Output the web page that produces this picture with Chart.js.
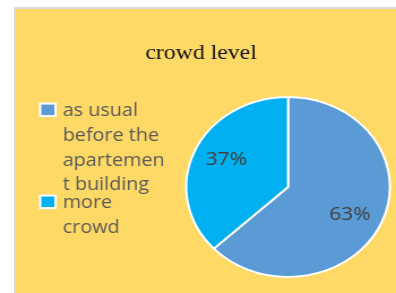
<!DOCTYPE html>
<html>
<head>
<meta charset="utf-8">
<script src="https://cdn.jsdelivr.net/npm/chart.js@4/dist/chart.umd.min.js"></script>
<style>
  html, body { margin: 0; padding: 0; background: #ffffff; width: 396px; height: 293px; overflow: hidden; }
  #panel { position: absolute; left: 14px; top: 7px; width: 420px; height: 320px;
           background: #FFD966; border-left: 2px solid #d9d9d9; border-top: 2px solid #d9d9d9; }
  #c { position: absolute; left: 0; top: 0; }
</style>
</head>
<body>
<div id="panel"></div>
<canvas id="c" width="350" height="293" style="width:396px;height:293px;"></canvas>
<script>
// ---- data ----
const chartTitle = 'crowd level';
const categories = ['as usual before the apartement building', 'more crowd'];
const legendLines = [
  ['as usual', 'before the', 'apartemen', 't building'],
  ['more', 'crowd']
];
const values = [63, 37];
const valueLabels = ['63%', '37%'];
const sliceColors = ['#5B9BD5', '#00B0F0'];

// percentage labels placed on each arc's mid-angle
const pieLabels = {
  id: 'pieLabels',
  afterDatasetsDraw(chart) {
    const ctx = chart.ctx;
    const meta = chart.getDatasetMeta(0);
    ctx.save();
    ctx.font = '18.5px "Open Sans", "Noto Sans", sans-serif';
    ctx.fillStyle = '#404040';
    ctx.textAlign = 'center';
    ctx.textBaseline = 'middle';
    meta.data.forEach((arc, i) => {
      const p = arc.getProps(['x', 'y', 'startAngle', 'endAngle', 'outerRadius'], true);
      const mid = (p.startAngle + p.endAngle) / 2 + 0.06;
      const r = p.outerRadius * 0.68;
      ctx.fillText(valueLabels[i], p.x + Math.cos(mid) * r, p.y + Math.sin(mid) * r);
    });
    ctx.restore();
  }
};

// chart title and wrapped legend (boxes aligned to the first line)
const titleAndLegend = {
  id: 'titleAndLegend',
  afterDraw(chart) {
    const ctx = chart.ctx;
    ctx.save();
    ctx.font = '21px "Liberation Serif", "DejaVu Serif", serif';
    ctx.fillStyle = '#111111';
    ctx.textAlign = 'center';
    ctx.textBaseline = 'alphabetic';
    ctx.fillText(chartTitle, 177.7, 59.3);

    const textX = 55.4, boxX = 35.5, boxW = 13.5, boxH = 12.5;
    const lineStep = 24.7;
    const itemStarts = [116.3, 208.3];
    ctx.font = '17.5px "Open Sans", "Noto Sans", sans-serif';
    ctx.textAlign = 'left';
    legendLines.forEach((lines, i) => {
      const b0 = itemStarts[i];
      ctx.fillStyle = sliceColors[i];
      ctx.strokeStyle = '#ffffff';
      ctx.lineWidth = 2;
      ctx.fillRect(boxX, b0 - 6.5 - boxH / 2, boxW, boxH);
      ctx.strokeRect(boxX, b0 - 6.5 - boxH / 2, boxW, boxH);
      ctx.fillStyle = '#595959';
      lines.forEach((t, j) => ctx.fillText(t, textX, b0 + j * lineStep));
    });
    ctx.restore();
  }
};

new Chart(document.getElementById('c'), {
  type: 'pie',
  data: {
    labels: categories,
    datasets: [{
      data: values,
      backgroundColor: sliceColors,
      borderColor: '#ffffff',
      borderWidth: 2
    }]
  },
  options: {
    responsive: false,
    devicePixelRatio: 1,
    animation: false,
    layout: { padding: { left: 163.6, right: 4.4, top: 96, bottom: 15 } },
    plugins: {
      tooltip: { enabled: false },
      legend: { display: false },
      title: { display: false }
    }
  },
  plugins: [pieLabels, titleAndLegend]
});
</script>
</body>
</html>
